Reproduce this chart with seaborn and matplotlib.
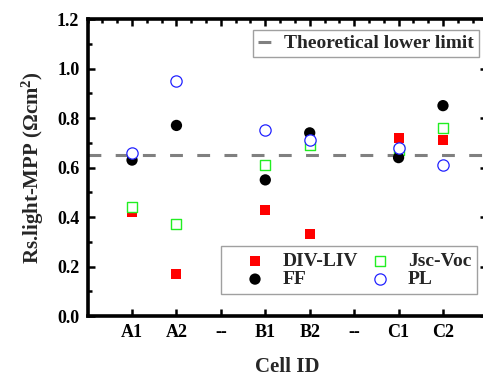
import numpy as np
import pandas as pd
import matplotlib
matplotlib.use("Agg")
import matplotlib.pyplot as plt
import seaborn as sns
from matplotlib.ticker import MultipleLocator

# === Data ===
cells = ["A1", "A2", "--", "B1", "B2", "--", "C1", "C2"]
div_liv = [0.42, 0.17, np.nan, 0.43, 0.33, np.nan, 0.72, 0.71]
ff = [0.63, 0.77, np.nan, 0.55, 0.74, np.nan, 0.64, 0.85]
jsc_voc = [0.44, 0.37, np.nan, 0.61, 0.69, np.nan, 0.67, 0.76]
pl = [0.66, 0.95, np.nan, 0.75, 0.71, np.nan, 0.68, 0.61]
lower_limit = 0.65

sns.set_theme(style="ticks")
plt.rcParams["font.family"] = ["Liberation Serif", "DejaVu Serif"]
plt.rcParams["font.weight"] = "bold"
plt.rcParams["axes.labelweight"] = "bold"
plt.rcParams["mathtext.fontset"] = "custom"
plt.rcParams["mathtext.rm"] = "Liberation Serif:bold"
plt.rcParams["mathtext.bf"] = "Liberation Serif:bold"
plt.rcParams["mathtext.it"] = "Liberation Serif:italic:bold"

pos = np.arange(1, len(cells) + 1)
df = pd.DataFrame({"pos": pos, "div": div_liv, "ff": ff, "jsc": jsc_voc, "pl": pl})

fig = plt.figure(figsize=(4.83, 3.72), dpi=100)
ax = fig.add_axes([0.1814, 0.1505, 0.8277, 0.7984])

# series (zorder keeps open markers on top like the original)
sns.scatterplot(data=df, x="pos", y="div", marker="s", s=52, color="#ff0000",
                edgecolor="none", label="DIV-LIV", ax=ax, zorder=3)
sns.scatterplot(data=df, x="pos", y="ff", marker="o", s=66, color="black",
                edgecolor="none", label="FF", ax=ax, zorder=5)
sns.scatterplot(data=df, x="pos", y="jsc", marker="s", s=52, color="white",
                edgecolor="#22ee22", linewidth=1.0, label="Jsc-Voc", ax=ax, zorder=4)
sns.scatterplot(data=df, x="pos", y="pl", marker="o", s=66, color="white",
                edgecolor="#2222ff", linewidth=0.9, label="PL", ax=ax, zorder=6)

ax.axhline(lower_limit, color="#808080", lw=2.2, dashes=(4.2, 4.7), zorder=2,
           label="Theoretical lower limit")

ax.set_xlim(0, len(cells) + 1)
ax.set_ylim(0, 1.2)
ax.set_xticks(pos)
ax.set_xticklabels(cells)
ax.xaxis.set_minor_locator(MultipleLocator(1 / 3))
ax.yaxis.set_major_locator(MultipleLocator(0.2))
ax.yaxis.set_minor_locator(MultipleLocator(0.1))
ax.yaxis.set_major_formatter(matplotlib.ticker.FormatStrFormatter("%.1f"))

ax.tick_params(which="both", direction="in", top=True, right=True, width=1.8,
               labelsize=13, pad=6, colors="black")
ax.tick_params(which="major", length=5)
ax.tick_params(which="minor", length=3)
ax.tick_params(axis="x", which="minor", bottom=False, top=True)
ax.tick_params(axis="y", which="minor", left=True, right=False)
for side in ax.spines.values():
    side.set_linewidth(2.6)
    side.set_color("black")

ax.set_xlabel("Cell ID", fontsize=15, labelpad=11)
ax.set_ylabel(r"Rs.light-MPP (Ωcm$^{2}$)", fontsize=15, labelpad=8)

# legends
handles, labels = ax.get_legend_handles_labels()
h = dict(zip(labels, handles))
leg1 = ax.legend([h["Theoretical lower limit"]], ["Theoretical lower limit"],
                 loc="upper right", bbox_to_anchor=(0.979, 0.963), borderaxespad=0,
                 fontsize=14, frameon=True, fancybox=False, edgecolor="#a0a0a0",
                 framealpha=1, handlelength=1.2, handletextpad=0.15, borderpad=0.25)
leg1.get_frame().set_linewidth(1.0)
ax.add_artist(leg1)

leg2 = ax.legend([h["DIV-LIV"], h["FF"], h["Jsc-Voc"], h["PL"]],
                 ["DIV-LIV", "FF", "Jsc-Voc", "PL"], ncol=2,
                 loc="lower right", bbox_to_anchor=(0.974, 0.074), borderaxespad=0,
                 fontsize=14, frameon=True, fancybox=False, edgecolor="#a0a0a0",
                 framealpha=1, handlelength=2.85, handletextpad=0.0,
                 columnspacing=-0.3, labelspacing=0.05, borderpad=0.3)
leg2.get_frame().set_linewidth(1.0)

fig.savefig("out.png", dpi=100)
